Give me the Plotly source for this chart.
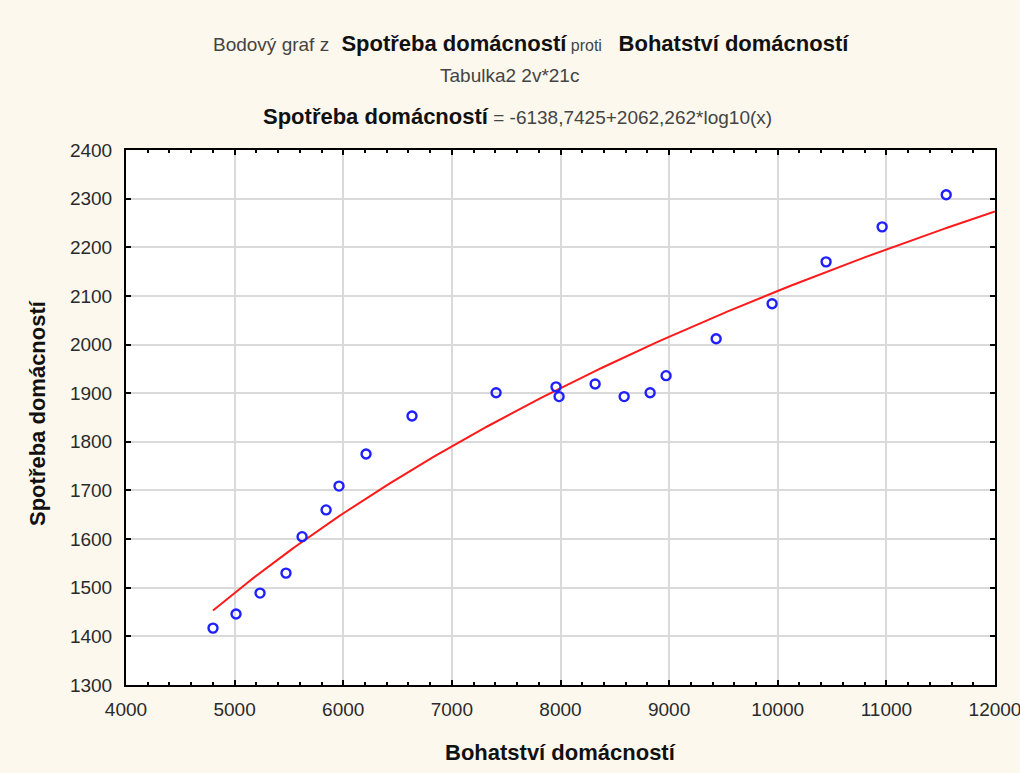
import numpy as np
import plotly.graph_objects as go

# Data
bohatstvi = [4801, 5013, 5234, 5473, 5621, 5842, 5961, 6210, 6633, 7407, 7959,
             7987, 8319, 8586, 8825, 8972, 9433, 9948, 10445, 10961, 11551]
spotreba = [1417, 1446, 1489, 1530, 1605, 1660, 1709, 1775, 1853, 1901, 1913,
            1893, 1919, 1893, 1901, 1936, 2012, 2084, 2170, 2242, 2308]

# Fit equation shown in the chart
intercept = -6138.7425
slope = 2062.262
fit_x_end = 12000

x_ticks = [4000, 5000, 6000, 7000, 8000, 9000, 10000, 11000, 12000]
y_ticks = [1300, 1400, 1500, 1600, 1700, 1800, 1900, 2000, 2100, 2200, 2300, 2400]

fit_x = np.linspace(min(bohatstvi), fit_x_end, 200)
fit_y = intercept + slope * np.log10(fit_x)

FONT = "Liberation Sans"
L, R, T, B = 126, 25, 150, 88
W, H = 1020, 773
PW, PH = W - L - R, H - T - B

fig = go.Figure()
fig.add_trace(go.Scatter(
    x=fit_x, y=fit_y, mode="lines",
    line=dict(color="#ff1a1a", width=2),
    hoverinfo="skip", showlegend=False,
))
fig.add_trace(go.Scatter(
    x=bohatstvi, y=spotreba, mode="markers",
    marker=dict(symbol="circle-open", size=9, color="#1f1fff",
                line=dict(width=2.4, color="#1f1fff")),
    showlegend=False,
))

axis_common = dict(
    showline=True, linecolor="black", linewidth=2, mirror="ticks",
    ticks="inside", ticklen=5, tickcolor="black", tickwidth=1.5,
    showgrid=True, gridcolor="#dadada", gridwidth=2,
    zeroline=False,
    tickfont=dict(family=FONT, size=19, color="#2a2a2a"),
    ticklabeloverflow="allow",
    automargin=False,
)

fig.update_xaxes(
    range=[4000, 12000], tickvals=x_ticks, ticktext=[str(v) for v in x_ticks],
    minor=dict(dtick=200, ticks="inside", ticklen=3, tickcolor="black", showgrid=False),
    ticklabelstandoff=6,
    **axis_common,
)
fig.update_yaxes(
    range=[1300, 2400], tickvals=y_ticks, ticktext=[str(v) for v in y_ticks],
    ticklabelstandoff=8,
    **axis_common,
)

def px_x(p):
    return (p - L) / PW

def px_y(p):
    return (H - B - p) / PH

GRAY = "#444444"
annots = [
    dict(text=f"<span style='font-size:19px;color:{GRAY}'>Bodový graf z</span>  "
              f"<b>Spotřeba domácností</b>"
              f"<span style='font-size:16px;color:{GRAY}'> proti </span>  <b>Bohatství domácností</b>",
         x=531, y=43, size=22),
    dict(text="Tabulka2 2v*21c", x=509, y=75, size=19, color=GRAY),
    dict(text=f"<b>Spotřeba domácností</b><span style='font-size:19px;color:{GRAY}'> = -6138,7425+2062,262*log10(x)</span>",
         x=517, y=117, size=22),
    dict(text="<b>Bohatství domácností</b>", x=560, y=752, size=22),
    dict(text="<b>Spotřeba domácností</b>", x=37, y=413, size=22, angle=-90),
]
for a in annots:
    fig.add_annotation(
        text=a["text"], xref="paper", yref="paper", x=px_x(a["x"]), y=px_y(a["y"]),
        xanchor="center", yanchor="middle", showarrow=False,
        textangle=a.get("angle", 0),
        font=dict(family=FONT, size=a["size"], color=a.get("color", "#111111")),
    )

fig.update_layout(
    width=W, height=H,
    margin=dict(l=L, r=R, t=T, b=B, autoexpand=False),
    paper_bgcolor="#fdf8ee", plot_bgcolor="white",
    font=dict(family=FONT),
)

fig.write_html("out.html")
